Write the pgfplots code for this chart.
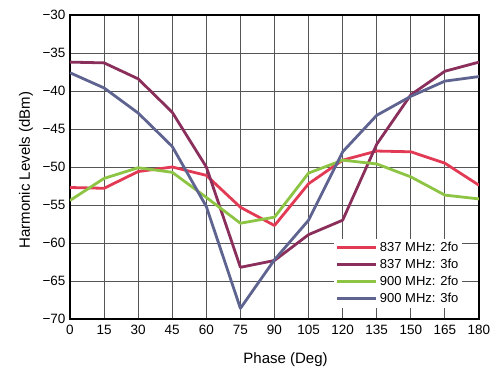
\documentclass[border=0pt]{standalone}
\usepackage{fontspec}
\setmainfont{Liberation Sans}
\usepackage{pgfplots}
\pgfplotsset{compat=1.18}
\definecolor{cA}{HTML}{E23A55}
\definecolor{cB}{HTML}{8A2F5C}
\definecolor{cC}{HTML}{8DC444}
\definecolor{cD}{HTML}{5E6390}
\definecolor{gridc}{HTML}{555555}
\begin{document}
\begin{tikzpicture}
\begin{axis}[
  scale only axis,
  width=409pt, height=304pt,
  xmin=0, xmax=180, ymin=-70, ymax=-30,
  xtick={0,15,...,180},
  ytick={-70,-65,...,-30},
  grid=major,
  major grid style={gridc, line width=0.9pt},
  axis line style={black, line width=1.8pt},
  tick style={gridc, line width=0.9pt},
  tick align=inside,
  major tick length=5pt,
  ticklabel style={font=\fontsize{13.5}{13.5}\selectfont},
  x tick label style={yshift=-3pt},
  y tick label style={xshift=-1pt},
  /pgf/number format/assume math mode=true,
  yticklabel={\pgfmathparse{int(-\tick)}−\pgfmathresult},
  xlabel={Phase (Deg)},
  ylabel={Harmonic Levels (dBm)},
  label style={font=\fontsize{15}{15}\selectfont},
  xlabel style={at={(axis description cs:0.527,-0.135)}, anchor=center},
  ylabel style={at={(axis description cs:-0.1076,0.49)}, anchor=center},
  legend style={at={(axis description cs:0.96,0.035)}, anchor=south east,
    fill=white, draw=none, font=\fontsize{13}{13}\selectfont,
    row sep=2pt, inner sep=2pt},
  legend cell align=left,
  legend image code/.code={\draw[#1, line width=3pt] (0pt,0pt) -- (39pt,0pt);},
  every axis plot/.append style={line width=2.8pt, line join=round},
  clip=true,
]
\addplot[cA] coordinates {(0,-52.7)(15,-52.8)(30,-50.6)(45,-50.0)(60,-51.1)(75,-55.3)(90,-57.7)(105,-52.2)(120,-49.1)(135,-47.9)(150,-48.0)(165,-49.5)(180,-52.4)};
\addplot[cB] coordinates {(0,-36.2)(15,-36.3)(30,-38.4)(45,-42.8)(60,-50.0)(75,-63.2)(90,-62.3)(105,-58.9)(120,-57.0)(135,-47.0)(150,-40.5)(165,-37.4)(180,-36.2)};
\addplot[cC] coordinates {(0,-54.4)(15,-51.5)(30,-50.1)(45,-50.7)(60,-54.0)(75,-57.4)(90,-56.6)(105,-50.8)(120,-49.1)(135,-49.6)(150,-51.3)(165,-53.7)(180,-54.2)};
\addplot[cD] coordinates {(0,-37.6)(15,-39.6)(30,-42.9)(45,-47.3)(60,-55.2)(75,-68.6)(90,-62.2)(105,-57.0)(120,-48.0)(135,-43.2)(150,-40.7)(165,-38.7)(180,-38.1)};
\legend{837 MHz: 2fo, 837 MHz: 3fo, 900 MHz: 2fo, 900 MHz: 3fo}
\end{axis}
\path[use as bounding box] (-70pt,-55pt) rectangle (429pt,319pt);
\end{tikzpicture}
\end{document}
